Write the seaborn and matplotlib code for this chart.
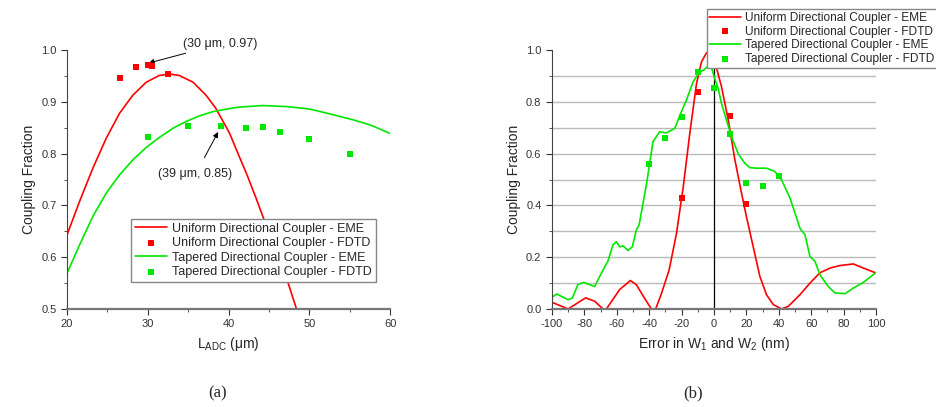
import numpy as np
import pandas as pd
import matplotlib
matplotlib.use("Agg")
import matplotlib.pyplot as plt
from matplotlib.ticker import MultipleLocator
import seaborn as sns

# ---- panel (a): coupling vs adiabatic coupler length ----
len_uniform_eme = [20, 21.56, 23.2, 24.86, 26.5, 28.15, 29.8, 31.4, 32.7, 33.9, 35.6,
                   37.2, 38.4, 40.1, 41.3, 42.2, 43.4, 44.7, 45.9, 47.2, 48.4]
cf_uniform_eme = [0.643, 0.708, 0.772, 0.830, 0.878, 0.913, 0.938, 0.951, 0.954, 0.951,
                  0.938, 0.913, 0.888, 0.840, 0.795, 0.762, 0.714, 0.659, 0.611, 0.558,
                  0.5]
len_uniform_fdtd = [26.6, 28.6, 30.0, 30.5, 32.55]
cf_uniform_fdtd = [0.947, 0.967, 0.971, 0.970, 0.953]

len_tapered_eme = [20, 21.56, 23.2, 24.86, 26.5, 28.15, 29.8, 31.4, 33.1, 34.7, 36.4,
                   38.0, 39.7, 41.3, 44.25, 47.2, 50.1, 53, 55.5, 57.6, 60]
cf_tapered_eme = [0.569, 0.624, 0.679, 0.724, 0.759, 0.788, 0.812, 0.831, 0.849, 0.862,
                  0.873, 0.881, 0.886, 0.890, 0.893, 0.891, 0.886, 0.875, 0.865, 0.855,
                  0.839]
len_tapered_fdtd = [30, 35, 39, 42.2, 44.3, 46.3, 50, 55]
cf_tapered_fdtd = [0.832, 0.853, 0.853, 0.850, 0.852, 0.841, 0.828, 0.800]

# ---- panel (b): coupling vs width error ----
err_uniform_eme = [-100, -90, -79.2, -73.6, -68.5, -66.4, -58.2, -51.6, -47.9, -42.7,
                   -38.6, -36, -32.4, -27.7, -23.2, -19, -14.9, -10.8, -7.7, -4.6,
                   -2.6, 0.5, 4.6, 8.8, 12.9, 17, 20, 24.2, 28.3, 32.4, 36.6, 41.7,
                   45.8, 53, 59.2, 65.4, 71.6, 77.8, 86, 92.2, 100]
cf_uniform_eme_b = [0.026, 0.0, 0.043, 0.03, 0.0, 0.0, 0.075, 0.11, 0.094, 0.04,
                    0.0, 0.0, 0.06, 0.15, 0.29, 0.47, 0.68, 0.87, 0.955, 0.99,
                    0.987, 0.955, 0.86, 0.73, 0.576, 0.447, 0.357, 0.24, 0.126, 0.055,
                    0.017, 0.0, 0.01, 0.055, 0.10, 0.14, 0.158, 0.168, 0.174, 0.158,
                    0.139]
err_uniform_fdtd = [-20, -10, 0, 10, 20]
cf_uniform_fdtd_b = [0.43, 0.84, 0.97, 0.745, 0.405]

err_tapered_eme = [-100, -97, -94.2, -90, -87.4, -84, -80.4, -76.7, -73.6, -70.5,
                   -65.4, -62.3, -60.2, -58.2, -56.1, -53, -50.4, -47.9, -46.2, -41.7,
                   -37.6, -33.5, -29.4, -24.2, -20.1, -17, -12.9, -8.8, -6.3, -3,
                   -1.5, 0.5, 2.6, 4.6, 7.7, 10.8, 14.9, 19, 22.1, 26.2, 32.4, 37.6,
                   41.7, 46.9, 50, 53, 56.1, 59.2, 62.3, 65.4, 70.5, 74.6, 80.8, 86,
                   92.2, 100]
cf_tapered_eme_b = [0.045, 0.058, 0.049, 0.036, 0.042, 0.094, 0.103, 0.094, 0.087, 0.126,
                    0.186, 0.248, 0.26, 0.24, 0.244, 0.226, 0.24, 0.306, 0.325, 0.48,
                    0.647, 0.685, 0.68, 0.698, 0.762, 0.807, 0.878, 0.916, 0.923, 0.942,
                    0.932, 0.89, 0.852, 0.794, 0.73, 0.666, 0.60, 0.563, 0.546, 0.544,
                    0.544, 0.531, 0.499, 0.428, 0.37, 0.312, 0.287, 0.203, 0.184, 0.132,
                    0.087, 0.062, 0.059, 0.081, 0.103, 0.141]
err_tapered_fdtd = [-40, -30, -20, -10, 0, 10, 20, 30, 40]
cf_tapered_fdtd_b = [0.56, 0.66, 0.74, 0.915, 0.855, 0.675, 0.485, 0.475, 0.515]

series_names = ["Uniform Directional Coupler - EME", "Uniform Directional Coupler - FDTD",
                "Tapered Directional Coupler - EME", "Tapered Directional Coupler - FDTD"]

RED = "#ff0000"
GREEN = "#00e800"

sns.set_style("ticks")
plt.rcParams['font.family'] = ['Liberation Sans', 'DejaVu Sans']
plt.rcParams['mathtext.fontset'] = 'custom'
plt.rcParams['mathtext.rm'] = 'Liberation Sans'
plt.rcParams['axes.unicode_minus'] = False


def draw_series(ax, xe_u, ye_u, xf_u, yf_u, xe_t, ye_t, xf_t, yf_t):
    sns.lineplot(x=xe_u, y=ye_u, ax=ax, color=RED, lw=1.2, label=series_names[0],
                 sort=False, estimator=None)
    sns.scatterplot(x=xf_u, y=yf_u, ax=ax, color=RED, marker="s", s=22, linewidth=0,
                    label=series_names[1], zorder=4)
    sns.lineplot(x=xe_t, y=ye_t, ax=ax, color=GREEN, lw=1.2, label=series_names[2],
                 sort=False, estimator=None)
    sns.scatterplot(x=xf_t, y=yf_t, ax=ax, color=GREEN, marker="s", s=22, linewidth=0,
                    label=series_names[3], zorder=4)


def style_axes(ax):
    sns.despine(ax=ax)
    ax.spines['left'].set_color('#444444')
    ax.spines['bottom'].set_color('#777777')
    ax.spines['bottom'].set_linewidth(1.6)
    ax.tick_params(which='both', direction='out', labelsize=8, colors='#333333')
    ax.tick_params(which='major', length=4)
    ax.tick_params(which='minor', length=2.5)
    ax.set_ylabel("Coupling Fraction", fontsize=10)


fig = plt.figure(figsize=(9.37, 4.07), dpi=100)
ax_a = fig.add_axes([0.0715, 0.2408, 0.345, 0.636])
ax_b = fig.add_axes([0.589, 0.2408, 0.346, 0.636])

# panel (a)
draw_series(ax_a, len_uniform_eme, cf_uniform_eme, len_uniform_fdtd, cf_uniform_fdtd,
            len_tapered_eme, cf_tapered_eme, len_tapered_fdtd, cf_tapered_fdtd)
ax_a.set_xlim(20, 60)
ax_a.set_ylim(0.5, 1.0)
ax_a.xaxis.set_major_locator(MultipleLocator(10))
ax_a.xaxis.set_minor_locator(MultipleLocator(5))
ax_a.yaxis.set_major_locator(MultipleLocator(0.1))
ax_a.yaxis.set_minor_locator(MultipleLocator(0.05))
style_axes(ax_a)
ax_a.set_xlabel(r"L$_{\mathregular{ADC}}$ ($\mathregular{\mu}$m)", fontsize=10)
ax_a.legend(loc="lower right", bbox_to_anchor=(0.975, 0.08), fontsize=9,
            frameon=True, fancybox=False, edgecolor='#888888', framealpha=1,
            borderpad=0.3, labelspacing=0.2, handlelength=2.6, handletextpad=0.4)
ax_a.annotate("(30 \u03bcm, 0.97)", xy=(30.1, 0.975), xytext=(34.4, 1.012),
              fontsize=9, ha="left", va="center", annotation_clip=False,
              arrowprops=dict(arrowstyle="-|>", color="black", lw=0.7,
                              mutation_scale=8, shrinkA=0, shrinkB=0))
ax_a.annotate("(39 \u03bcm, 0.85)", xy=(38.7, 0.842), xytext=(35.9, 0.76),
              fontsize=9, ha="center", va="center",
              arrowprops=dict(arrowstyle="-|>", color="black", lw=0.7,
                              mutation_scale=8, shrinkA=6, shrinkB=0))

# panel (b)
ax_b.yaxis.grid(True, which='both', color='#bbbbbb', lw=1.0)
ax_b.set_axisbelow(True)
ax_b.axvline(0, color='black', lw=0.9, zorder=1)
draw_series(ax_b, err_uniform_eme, cf_uniform_eme_b, err_uniform_fdtd, cf_uniform_fdtd_b,
            err_tapered_eme, cf_tapered_eme_b, err_tapered_fdtd, cf_tapered_fdtd_b)
ax_b.set_xlim(-100, 100)
ax_b.set_ylim(0.0, 1.0)
ax_b.xaxis.set_major_locator(MultipleLocator(20))
ax_b.xaxis.set_minor_locator(MultipleLocator(10))
ax_b.yaxis.set_major_locator(MultipleLocator(0.2))
ax_b.yaxis.set_minor_locator(MultipleLocator(0.1))
style_axes(ax_b)
# no grid line along the top edge
fig.canvas.draw()
for t in ax_b.yaxis.get_major_ticks():
    if abs(t.get_loc() - 1.0) < 1e-6:
        t.gridline.set_visible(False)
ax_b.set_xlabel(r"Error in W$_{\mathregular{1}}$ and W$_{\mathregular{2}}$ (nm)", fontsize=10)
ax_b.legend(loc="upper right", bbox_to_anchor=(1.19, 1.16), fontsize=8.6,
            frameon=True, fancybox=False, edgecolor='#888888', framealpha=1,
            borderpad=0.25, labelspacing=0.15, handlelength=2.6, handletextpad=0.4,
            borderaxespad=0)

fig.text(218 / 937, 1 - 393 / 407, "(a)", family=['Liberation Serif'], fontsize=12,
         ha="center", va="center")
fig.text(693 / 937, 1 - 393 / 407, "(b)", family=['Liberation Serif'], fontsize=12,
         ha="center", va="center")

fig.savefig("out.png", dpi=100)
